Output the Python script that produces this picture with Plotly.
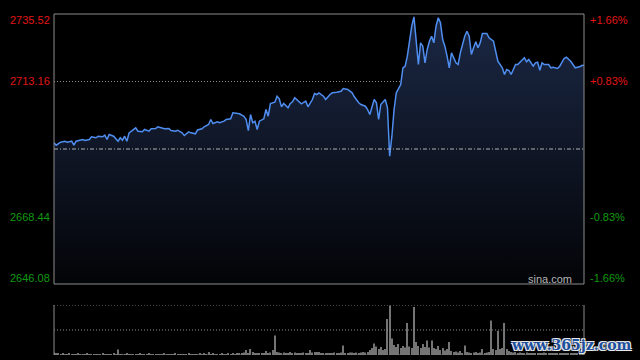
import plotly.graph_objects as go

# ---- data ----
prev_close = 2690.80
price_ticks = [2735.52, 2713.16, 2668.44, 2646.08]
pct_labels = ["+1.66%", "+0.83%", "-0.83%", "-1.66%"]

minutes = [0, 1, 3, 5, 6, 8, 9, 10, 13, 14,
           16, 17, 19, 20, 22, 23, 24, 25, 27, 28,
           29, 30, 31, 32, 33, 34, 36, 37, 38, 40,
           41, 43, 44, 46, 47, 49, 50, 52, 53, 55,
           56, 58, 59, 61, 62, 64, 65, 67, 68, 70,
           71, 72, 74, 75, 77, 78, 80, 81, 83, 84,
           86, 87, 88, 89, 90, 91, 92, 93, 95, 96,
           97, 98, 100, 101, 102, 103, 104, 106, 107, 108,
           109, 111, 112, 114, 115, 117, 118, 119, 120, 122,
           123, 125, 126, 128, 130, 131, 133, 135, 136, 138,
           139, 141, 142, 143, 145, 146, 147, 148, 150, 151,
           152, 153, 154, 155, 157, 158, 159, 160, 161, 162,
           163, 164, 165, 166, 167, 168, 169, 170, 171, 172,
           173, 174, 175, 176, 177, 178, 179, 180, 182, 183,
           184, 186, 187, 188, 189, 190, 191, 192, 193, 194,
           196, 197, 199, 200, 201, 203, 204, 205, 206, 207,
           209, 210, 212, 213, 214, 215, 217, 218, 219, 220,
           221, 222, 224, 225, 226, 228, 229, 231, 232, 234,
           235, 236, 238, 239, 240]

prices = [2692.85, 2692.06, 2693.05, 2693.38, 2693.05, 2693.38, 2692.06, 2693.38, 2693.94, 2693.61,
          2693.94, 2694.84, 2694.51, 2695.04, 2694.84, 2695.37, 2693.94, 2695.60, 2695.04, 2694.27,
          2693.38, 2694.51, 2693.71, 2695.04, 2693.38, 2696.16, 2697.26, 2697.82, 2696.69, 2696.49,
          2697.26, 2696.69, 2697.49, 2697.59, 2698.15, 2697.82, 2697.49, 2697.59, 2696.92, 2696.69,
          2697.02, 2696.16, 2695.27, 2696.49, 2696.16, 2695.83, 2697.09, 2697.49, 2698.15, 2698.91,
          2700.57, 2699.24, 2699.81, 2699.48, 2700.01, 2700.57, 2700.80, 2702.79, 2702.46, 2702.46,
          2701.66, 2700.57, 2696.92, 2702.23, 2699.48, 2700.01, 2697.26, 2700.01, 2700.80, 2703.88,
          2701.66, 2705.87, 2706.30, 2708.29, 2707.43, 2704.78, 2705.87, 2704.44, 2705.87, 2706.43,
          2707.76, 2706.43, 2705.77, 2706.63, 2704.78, 2707.19, 2709.18, 2708.85, 2709.41, 2708.29,
          2707.19, 2708.85, 2709.41, 2709.61, 2709.94, 2710.84, 2710.51, 2709.41, 2708.09, 2706.10,
          2705.54, 2704.97, 2703.88, 2702.23, 2707.19, 2706.10, 2700.57, 2705.54, 2707.19, 2704.44,
          2688.41, 2695.04, 2703.88, 2709.41, 2712.16, 2717.69, 2718.22, 2721.54, 2727.07, 2731.48,
          2734.59, 2727.07, 2718.79, 2725.98, 2724.85, 2719.35, 2723.76, 2726.51, 2728.16, 2725.98,
          2731.48, 2734.26, 2732.60, 2727.07, 2724.85, 2721.54, 2717.69, 2722.66, 2719.35, 2718.79,
          2722.66, 2728.16, 2729.82, 2728.16, 2722.10, 2724.32, 2726.31, 2724.32, 2725.98, 2729.06,
          2729.06, 2727.63, 2726.51, 2723.19, 2719.88, 2717.69, 2715.48, 2717.13, 2716.80, 2715.48,
          2718.79, 2718.79, 2720.44, 2721.01, 2719.68, 2720.44, 2718.22, 2719.35, 2719.55, 2716.90,
          2719.35, 2718.79, 2718.79, 2717.69, 2717.89, 2717.46, 2718.22, 2720.78, 2721.21, 2719.88,
          2718.79, 2717.69, 2718.03, 2718.46, 2718.56]

volume = [5, 3, 3, 2, 3, 2, 2, 3, 2, 2,
          2, 3, 2, 2, 2, 3, 2, 2, 2, 2,
          2, 2, 3, 2, 2, 2, 2, 3, 2, 11,
          2, 2, 2, 3, 2, 2, 2, 2, 2, 3,
          2, 2, 2, 3, 2, 2, 2, 2, 2, 2,
          3, 2, 2, 2, 2, 3, 2, 2, 2, 2,
          2, 3, 2, 2, 2, 2, 3, 2, 3, 2,
          6, 2, 3, 2, 2, 2, 3, 2, 2, 3,
          2, 3, 2, 4, 3, 3, 5, 10, 4, 12,
          6, 3, 4, 3, 3, 4, 8, 4, 5, 10,
          39, 6, 5, 4, 5, 4, 4, 6, 4, 5,
          4, 3, 4, 5, 4, 4, 10, 5, 6, 6,
          6, 3, 4, 3, 4, 3, 4, 5, 4, 4,
          5, 19, 4, 4, 5, 5, 4, 5, 4, 5,
          6, 5, 6, 10, 14, 23, 17, 12, 16, 10,
          12, 72, 99, 33, 20, 16, 22, 14, 18, 15,
          64, 17, 14, 96, 26, 18, 14, 22, 16, 29,
          15, 29, 14, 12, 18, 10, 14, 9, 12, 26,
          8, 6, 7, 5, 8, 4, 19, 6, 5, 4,
          5, 6, 4, 5, 12, 4, 5, 6, 69, 12,
          10, 48, 12, 14, 64, 12, 8, 6, 5, 6,
          4, 5, 4, 3, 5, 4, 3, 4, 4, 3,
          4, 3, 5, 4, 3, 4, 3, 4, 3, 4,
          3, 4, 3, 4, 3, 3, 4, 3, 4, 3,
          6]
vol_max = 100
vol_mid = 50
vol_minutes = list(range(len(volume)))

assert len(minutes) == len(prices)

W, H = 640, 360
L, R = 54, 584
MAIN_T, MAIN_B = 14, 284
VOL_T, VOL_B = 305, 355

FONT = "Arial, Liberation Sans, sans-serif"
RED = "#e31414"
GREEN = "#119a11"
GRID = "#8a8a8a"
BORDER = "#8c8c8c"

fig = go.Figure()

fig.add_trace(go.Scatter(
    x=minutes, y=prices, mode="lines",
    line=dict(color="#4f8ef0", width=1.5),
    fill="tozeroy",
    fillgradient=dict(type="vertical",
                      colorscale=[[0, "#030407"], [1, "#1b2845"]],
                      start=price_ticks[-1], stop=price_ticks[0]),
    xaxis="x", yaxis="y", hoverinfo="skip", showlegend=False,
))

fig.add_trace(go.Bar(
    x=vol_minutes, y=volume, marker=dict(color="#747474", line=dict(width=0)),
    xaxis="x2", yaxis="y2", hoverinfo="skip", showlegend=False,
))

shapes = []
# main panel gridlines
for v in [price_ticks[1], price_ticks[2]]:
    shapes.append(dict(type="line", xref="x domain", yref="y", x0=0, x1=1, y0=v, y1=v,
                       line=dict(color=GRID, width=1, dash="1px,2px"), layer="below"))
shapes.append(dict(type="line", xref="x domain", yref="y", x0=0, x1=1, y0=prev_close, y1=prev_close,
                   line=dict(color="#b0b0b0", width=1, dash="4px,2px,1px,2px"), layer="above"))
# main border
shapes.append(dict(type="rect", xref="x domain", yref="y domain", x0=0, x1=1, y0=0, y1=1,
                   line=dict(color=BORDER, width=1), layer="above"))
# volume panel
for v in [0, vol_mid, vol_max]:
    shapes.append(dict(type="line", xref="x2 domain", yref="y2", x0=0, x1=1, y0=v, y1=v,
                       line=dict(color=GRID, width=1, dash="1px,2px"), layer="above"))
for xx in [0, 1]:
    shapes.append(dict(type="line", xref="x2 domain", yref="y2 domain", x0=xx, x1=xx, y0=0, y1=1,
                       line=dict(color=BORDER, width=1), layer="above"))

annotations = []
shifts = [-6, 0, 0, 6]
for v, pl, s in zip(price_ticks, pct_labels, shifts):
    col = RED if v > prev_close else GREEN
    annotations.append(dict(x=(L - 2) / W, xref="paper", y=v, yref="y", yshift=s,
                            text=f"{v:.2f}", showarrow=False, xanchor="right", yanchor="middle",
                            font=dict(family=FONT, size=11, color=col)))
    annotations.append(dict(x=(R + 4) / W, xref="paper", y=v, yref="y", yshift=s,
                            text=pl, showarrow=False, xanchor="left", yanchor="middle",
                            font=dict(family=FONT, size=11, color=col)))

annotations.append(dict(x=574 / W, xref="paper", y=1 - 279 / H, yref="paper",
                        text="sina.com", showarrow=False, xanchor="right", yanchor="middle",
                        font=dict(family=FONT, size=11, color="#b4b4b4")))
annotations.append(dict(x=634 / W, xref="paper", y=1 - 345 / H, yref="paper",
                        text="<b>www.365jz.com</b>", showarrow=False, xanchor="right", yanchor="middle",
                        font=dict(family="DejaVu Serif, serif", size=14, color="#1d4f9e",
                                  shadow="-1px -1px 0 #e8e8e8, 1px -1px 0 #e8e8e8, -1px 1px 0 #e8e8e8, 1px 1px 0 #e8e8e8")))

fig.update_layout(
    width=W, height=H, autosize=False,
    margin=dict(l=0, r=0, t=0, b=0),
    paper_bgcolor="#000000", plot_bgcolor="#000000",
    bargap=0.5,
    xaxis=dict(domain=[L / W, R / W], range=[0, 240], visible=False, anchor="y", fixedrange=True),
    yaxis=dict(domain=[1 - MAIN_B / H, 1 - MAIN_T / H], range=[price_ticks[-1], price_ticks[0]],
               showgrid=False, zeroline=False, showticklabels=False, anchor="x"),
    xaxis2=dict(domain=[L / W, R / W], range=[0, 240], visible=False, anchor="y2"),
    yaxis2=dict(domain=[1 - VOL_B / H, 1 - VOL_T / H], range=[0, vol_max],
                showgrid=False, zeroline=False, showticklabels=False, anchor="x2"),
    shapes=shapes,
    annotations=annotations,
)

fig.write_html("out.html", config={"displayModeBar": False},
               post_script=["document.body.style.margin='0px';document.body.style.overflow='hidden';document.body.style.background='#000';"])
